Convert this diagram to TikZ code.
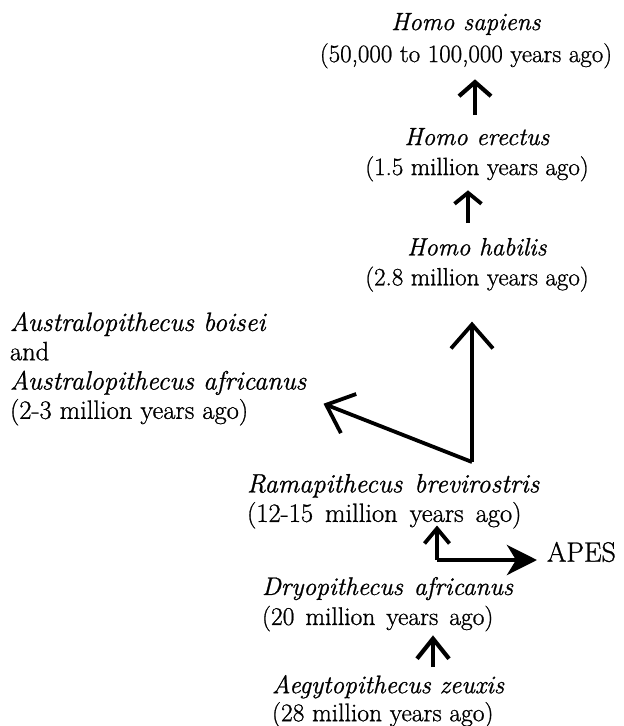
\documentclass[tikz,border=0pt]{standalone}
\usepackage{fontspec}
\setmainfont{Latin Modern Roman}[FakeBold=0.9]
\usetikzlibrary{arrows.meta,calc}
\begin{document}
\begin{tikzpicture}[x=1pt,y=-1pt,
  lbl/.style={inner sep=0pt, outer sep=0pt},
  upa/.style={line width=4.2pt, -{Straight Barb[length=14pt,width=32pt]}},
  upb/.style={line width=3.8pt, -{Straight Barb[length=11pt,width=27pt]}},
  bigar/.style={line width=3.8pt, -{Straight Barb[length=24pt,width=42pt]}},
  smallar/.style={line width=3.8pt, -{Straight Barb[length=15pt,width=25pt]}},
  botar/.style={line width=4.2pt, -{Straight Barb[length=20pt,width=32pt]}},
  apesar/.style={line width=4.5pt, -{Stealth[length=30pt,width=30pt,inset=9pt]}}
]
\useasboundingbox (0,0) rectangle (624,726);

\node[lbl, anchor=north, align=center, font={\fontsize{25}{32}\selectfont}] (sap) at (466,13)
  {\textit{Homo sapiens}\\(50,000 to 100,000 years ago)};
\node[lbl, anchor=north, align=center, font={\fontsize{25}{30}\selectfont}] (ere) at (477,128)
  {\textit{Homo erectus}\\(1.5 million years ago)};
\node[lbl, anchor=north, align=center, font={\fontsize{25}{30}\selectfont}] (hab) at (477,238)
  {\textit{Homo habilis}\\(2.8 million years ago)};
\node[lbl, anchor=north west, align=left, font={\fontsize{26.5}{29.3}\selectfont}] (aus) at (10,312)
  {\textit{Australopithecus boisei}\\and\\\textit{Australopithecus africanus}\\(2-3 million years ago)};
\node[lbl, anchor=north west, align=left, font={\fontsize{26.5}{29.5}\selectfont\spaceskip=12pt plus 2pt\relax}] (ram) at (247,474)
  {\textit{Ramapithecus brevirostris}\\(12-15 million years ago)};
\node[lbl, anchor=north west, align=left, font={\fontsize{25.5}{30}\selectfont\spaceskip=11pt plus 2pt\relax}] (dry) at (262,577)
  {\textit{Dryopithecus africanus}\\(20 million years ago)};
\node[lbl, anchor=north west, align=left, font={\fontsize{25.5}{28}\selectfont}] (aeg) at (272,675)
  {\textit{Aegytopithecus zeuxis}\\(28 million years ago)};
\node[lbl, anchor=west, font={\fontsize{28}{30}\selectfont}] (apes) at (547,552) {APES};

% top chain
\draw[upa, shorten <=13pt, shorten >=11pt] ($(ere.north)+(-2,0)$) -- ($(sap.south)+(9,0)$);
\draw[upb, shorten <=15pt, shorten >=9pt] ($(hab.north)+(-9,0)$) -- ($(ere.south)+(-9,0)$);

% fork above Ramapithecus
\coordinate (fork) at ($(ram.north west)+(225,-12)$);
\draw[bigar, shorten >=30pt] (fork) -- (fork |- hab.south);
\draw[bigar] (fork) -- ($(aus.east)+(17,35)$);

% Dryopithecus branch
\coordinate (br) at ($(dry.north west)+(175,-17)$);
\draw[smallar] (br) -- ($(br |- ram.south)+(0,-3)$);
\draw[apesar, shorten >=10pt] (br) -- (br -| apes.west);

% bottom
\draw[botar, shorten <=8pt, shorten >=4pt] ($(aeg.north west)+(161,0)$) -- ($(dry.south west)+(171,0)$);
\end{tikzpicture}
\end{document}
